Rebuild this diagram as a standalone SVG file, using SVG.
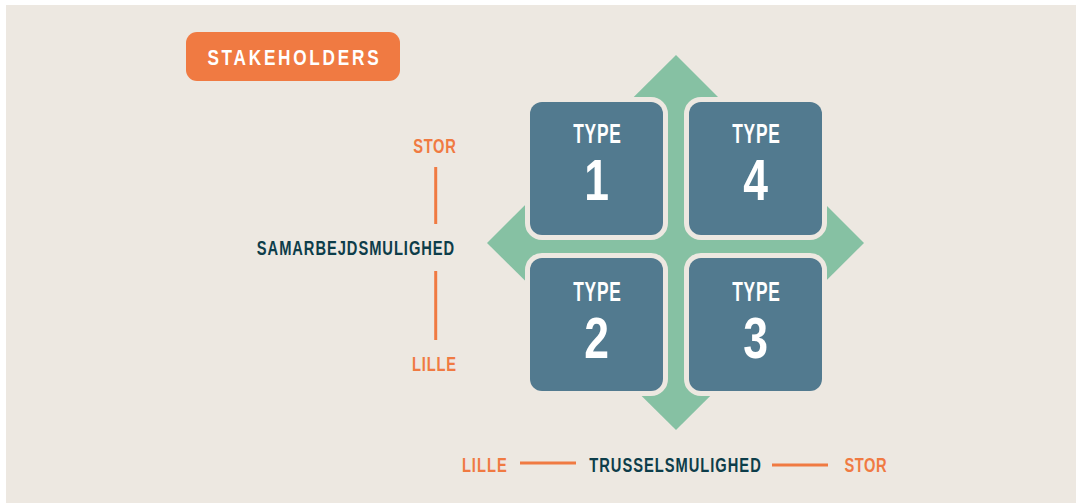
<svg xmlns="http://www.w3.org/2000/svg" width="1076" height="503" viewBox="0 0 1076 503">
<style>
.bg{fill:#EDE8E1}
.box{fill:#527A8F;stroke:#EDE8E1;stroke-width:10;paint-order:stroke fill}
.t{font-family:"Liberation Sans",Arial,sans-serif;font-weight:bold;text-anchor:middle}
.ty{fill:#FFFFFF;font-size:28px}
.num{fill:#FFFFFF;font-size:57px}
.or{fill:#F07A42;font-size:21px}
.dk{fill:#0D3D4A;font-size:21px}
.ln{stroke:#F07A42;stroke-width:3;fill:none}
</style>
<rect class="bg" x="6" y="5" width="1070" height="498"/>
<g id="badge">
<rect x="186" y="32" width="214" height="49" rx="11" fill="#F07A42"/>
<text class="t" transform="translate(293,65) scale(0.8,1)" font-size="21.5" fill="#FFFFFF" textLength="214" lengthAdjust="spacing">STAKEHOLDERS</text>
</g>
<g id="connectors">
<polygon points="676,55 864,243 676,430 487,243" fill="#86C1A3"/>
<line class="ln" x1="435.7" y1="167" x2="435.7" y2="224"/>
<line class="ln" x1="435.7" y1="271" x2="435.7" y2="340"/>
<line class="ln" x1="520" y1="463" x2="576" y2="463"/>
<line class="ln" x1="772" y1="465" x2="828" y2="465"/>
</g>
<g id="type1">
<rect class="box" x="530" y="102" width="133" height="133" rx="12"/>
<text class="t ty" transform="translate(597,143) scale(0.62,1)" textLength="77" lengthAdjust="spacing">TYPE</text>
<text class="t num" transform="translate(596.5,199.5) scale(0.78,1)">1</text>
</g>
<g id="type4">
<rect class="box" x="689" y="102" width="133" height="133" rx="12"/>
<text class="t ty" transform="translate(756,143) scale(0.62,1)" textLength="77" lengthAdjust="spacing">TYPE</text>
<text class="t num" transform="translate(755.5,199.5) scale(0.78,1)">4</text>
</g>
<g id="type2">
<rect class="box" x="530" y="258" width="133" height="133" rx="12"/>
<text class="t ty" transform="translate(597,301) scale(0.62,1)" textLength="77" lengthAdjust="spacing">TYPE</text>
<text class="t num" transform="translate(596.5,357.5) scale(0.78,1)">2</text>
</g>
<g id="type3">
<rect class="box" x="689" y="258" width="133" height="133" rx="12"/>
<text class="t ty" transform="translate(756,301) scale(0.62,1)" textLength="77" lengthAdjust="spacing">TYPE</text>
<text class="t num" transform="translate(755.5,357.5) scale(0.78,1)">3</text>
</g>
<g id="y-axis">
<text class="t or" transform="translate(434.5,153) scale(0.7,1)" textLength="61" lengthAdjust="spacing">STOR</text>
<text class="t dk" transform="translate(355.5,255) scale(0.7,1)" textLength="282" lengthAdjust="spacing">SAMARBEJDSMULIGHED</text>
<text class="t or" transform="translate(434,370.7) scale(0.7,1)" textLength="63" lengthAdjust="spacing">LILLE</text>
</g>
<g id="x-axis">
<text class="t or" transform="translate(484.3,472.3) scale(0.7,1)" textLength="64" lengthAdjust="spacing">LILLE</text>
<text class="t dk" transform="translate(675,472.3) scale(0.7,1)" textLength="245" lengthAdjust="spacing">TRUSSELSMULIGHED</text>
<text class="t or" transform="translate(865.5,472.3) scale(0.7,1)" textLength="60" lengthAdjust="spacing">STOR</text>
</g>
</svg>
